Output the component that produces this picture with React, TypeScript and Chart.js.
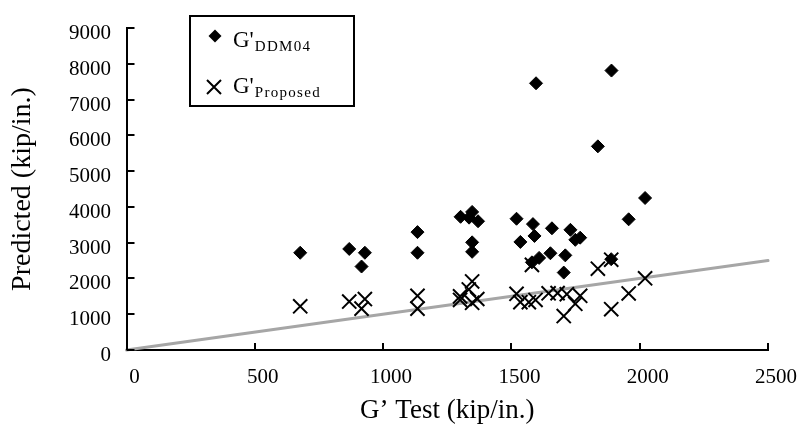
import React, { useEffect, useRef } from 'react';
import { Chart, registerables } from 'chart.js';

Chart.register(...registerables);

// ---- data ----
const xTickValues = [0, 500, 1000, 1500, 2000, 2500];
const yTickValues = [0, 1000, 2000, 3000, 4000, 5000, 6000, 7000, 8000, 9000];

const ddmTest = [677, 868, 929, 916, 1134, 1134, 1302, 1347, 1335, 1370, 1347, 1347, 1520, 1584, 1590, 1535, 1658, 1730, 1768, 1749, 1652, 1710, 1608, 1580, 1704, 1596, 1890, 1837, 2021, 1957, 1889];
const ddmPred = [2719, 2825, 2719, 2334, 3296, 2719, 3724, 3860, 3700, 3600, 3010, 2745, 3670, 3520, 3189, 3021, 3403, 3360, 3140, 3080, 2705, 2646, 2575, 2451, 2165, 7458, 7813, 5694, 4250, 3654, 2539];

const propTest = [677, 868, 929, 916, 1134, 1134, 1300, 1347, 1334, 1367, 1347, 1300, 1520, 1535, 1568, 1594, 1580, 1645, 1680, 1716, 1768, 1749, 1704, 1837, 1889, 2021, 1957, 1889];
const propPred = [1222, 1355, 1425, 1157, 1516, 1157, 1500, 1917, 1692, 1426, 1320, 1400, 1570, 1337, 1337, 1399, 2380, 1586, 1590, 1560, 1516, 1292, 950, 2272, 2525, 2005, 1580, 1141];

const refLineX = [0, 2500];
const refLineY = [0, 2500];

const legendMain = ["G'", "G'"];
const legendSub = ['DDM04', 'Proposed'];

const xTitle = 'G\u2019 Test (kip/in.)';
const yTitle = 'Predicted (kip/in.)';

const FONT = '"Liberation Serif", "Times New Roman", serif';

const axisDecor = {
  id: 'axisDecor',
  afterDraw(chart: any) {
    const ctx = chart.ctx;
    const xs = chart.scales.x;
    const ys = chart.scales.y;
    const { left, bottom } = chart.chartArea;
    ctx.save();
    ctx.strokeStyle = '#000';
    ctx.lineWidth = 2;
    ctx.beginPath();
    xTickValues.forEach((v) => {
      const px = Math.round(xs.getPixelForValue(v));
      ctx.moveTo(px, bottom);
      ctx.lineTo(px, bottom - 7);
    });
    yTickValues.forEach((v) => {
      const py = Math.round(ys.getPixelForValue(v));
      ctx.moveTo(left, py);
      ctx.lineTo(left + 8, py);
    });
    ctx.stroke();

    // legend box
    const bx = 190, by = 16, bw = 164, bh = 90;
    ctx.fillStyle = '#fff';
    ctx.fillRect(bx, by, bw, bh);
    ctx.lineWidth = 2;
    ctx.strokeRect(bx, by, bw, bh);

    // diamond marker
    ctx.fillStyle = '#000';
    const dx = 215, dy = 36, r = 6.5;
    ctx.beginPath();
    ctx.moveTo(dx, dy - r);
    ctx.lineTo(dx + r, dy);
    ctx.lineTo(dx, dy + r);
    ctx.lineTo(dx - r, dy);
    ctx.closePath();
    ctx.fill();

    // cross marker
    const cx = 214, cy = 87, h = 7;
    ctx.beginPath();
    ctx.moveTo(cx - h, cy - h);
    ctx.lineTo(cx + h, cy + h);
    ctx.moveTo(cx + h, cy - h);
    ctx.lineTo(cx - h, cy + h);
    ctx.lineWidth = 2;
    ctx.stroke();

    const rows = [47, 93];
    rows.forEach((baseY, i) => {
      ctx.font = `23px ${FONT}`;
      ctx.textBaseline = 'alphabetic';
      ctx.textAlign = 'left';
      (ctx as any).letterSpacing = '0px';
      ctx.fillText(legendMain[i], 233, baseY);
      const w = ctx.measureText(legendMain[i]).width;
      ctx.font = `15px ${FONT}`;
      (ctx as any).letterSpacing = '1.3px';
      ctx.fillText(legendSub[i], 233 + w + 1, baseY + 4);
    });
    (ctx as any).letterSpacing = '0px';
    ctx.restore();
  },
};

export default function App() {
  const ref = useRef<HTMLCanvasElement | null>(null);

  useEffect(() => {
    if (!ref.current) return;
    const chart = new Chart(ref.current, {
      type: 'scatter',
      data: {
        datasets: [
          {
            label: "G'DDM04",
            data: ddmTest.map((x, i) => ({ x, y: ddmPred[i] })),
            pointStyle: 'rectRot',
            pointRadius: 6.5,
            backgroundColor: '#000',
            borderColor: '#000',
            borderWidth: 1,
            order: 1,
          },
          {
            label: "G'Proposed",
            data: propTest.map((x, i) => ({ x, y: propPred[i] })),
            pointStyle: 'crossRot',
            pointRadius: 10,
            backgroundColor: '#000',
            borderColor: '#000',
            borderWidth: 2,
            order: 2,
          },
          {
            label: 'ref',
            data: refLineX.map((x, i) => ({ x, y: refLineY[i] })),
            showLine: true,
            borderColor: '#a6a6a6',
            borderWidth: 3,
            borderCapStyle: 'round',
            pointRadius: 0,
            clip: false,
            order: 3,
          } as any,
        ],
      },
      options: {
        responsive: false,
        animation: false,
        events: [],
        layout: { padding: { left: 0, top: 13, right: 33.5, bottom: 0 } },
        plugins: { legend: { display: false }, tooltip: { enabled: false } },
        scales: {
          x: {
            type: 'linear',
            min: 0,
            max: 2500,
            afterBuildTicks: (s: any) => {
              s.ticks = xTickValues.map((v) => ({ value: v }));
            },
            afterFit: (s: any) => {
              s.height = 90;
            },
            grid: { display: false, drawTicks: false },
            border: { display: true, color: '#000', width: 2 },
            ticks: {
              color: '#000',
              font: { family: FONT, size: 21 },
              padding: 15,
              labelOffset: 8,
              maxRotation: 0,
              autoSkip: false,
              callback: (v: any) => String(v),
            },
            title: {
              display: true,
              text: xTitle,
              color: '#000',
              font: { family: FONT, size: 27 },
              padding: { top: 0, bottom: 13 },
            },
          },
          y: {
            type: 'linear',
            min: 0,
            max: 9000,
            afterBuildTicks: (s: any) => {
              s.ticks = yTickValues.map((v) => ({ value: v }));
            },
            afterFit: (s: any) => {
              s.width = 126.5;
            },
            grid: { display: false, drawTicks: false },
            border: { display: true, color: '#000', width: 2 },
            ticks: {
              color: '#000',
              font: { family: FONT, size: 21 },
              padding: 15.5,
              labelOffset: 5.5,
              autoSkip: false,
              callback: (v: any) => String(v),
            },
            title: {
              display: true,
              text: yTitle,
              color: '#000',
              font: { family: FONT, size: 28 },
              padding: { top: 5.5, bottom: 0 },
            },
          },
        },
      },
      plugins: [axisDecor],
    } as any);
    return () => chart.destroy();
  }, []);

  return (
    <div style={{ position: 'absolute', left: 0, top: 0, width: 804, height: 440, background: '#fff' }}>
      <canvas ref={ref} width={804} height={440} />
    </div>
  );
}
